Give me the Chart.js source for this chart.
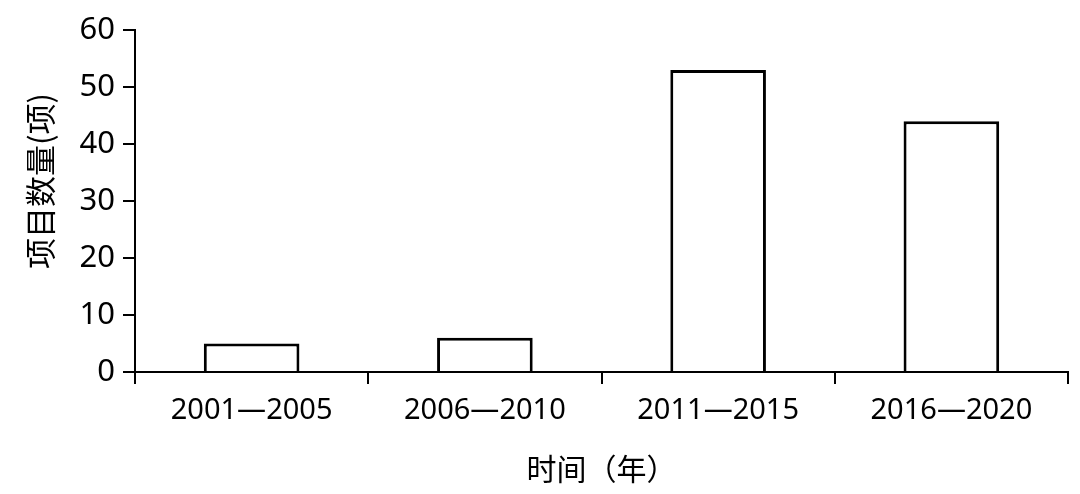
<!DOCTYPE html>
<html>
<head>
<meta charset="utf-8">
<script src="https://cdn.jsdelivr.net/npm/chart.js@4.4.0/dist/chart.umd.min.js"></script>
<style>
  html, body { margin: 0; padding: 0; background: #ffffff; }
  #wrap { width: 1080px; height: 494px; }
</style>
</head>
<body>
<div id="wrap"><canvas id="chart"></canvas></div>
<script>
// Data
const periods = ["2001—2005", "2006—2010", "2011—2015", "2016—2020"];
const projectCounts = [5, 6, 53, 44];
const yTicks = [0, 10, 20, 30, 40, 50, 60];
const xTitle = "时间（年）";
const yTitle = "项目数量(项)";

const FONT = "'Noto Sans', 'Noto Sans CJK SC', sans-serif";
const CJK_FONT = "'Noto Sans CJK SC', 'Noto Sans', sans-serif";

// Draws the rotated y axis title at a fixed spot left of the axis
const yTitlePlugin = {
    id: "yTitle",
    afterDraw(chart) {
        const ctx = chart.ctx;
        const area = chart.chartArea;
        ctx.save();
        ctx.translate(40, area.top + (area.bottom - area.top) / 2 - 20);
        ctx.rotate(-Math.PI / 2);
        ctx.font = "31px " + CJK_FONT;
        ctx.fillStyle = "#000";
        ctx.textAlign = "center";
        ctx.textBaseline = "middle";
        ctx.fillText(yTitle, 0, 0);
        ctx.restore();
    }
};

const data = {
    labels: periods,
    datasets: [{
        data: projectCounts,
        backgroundColor: "#ffffff",
        borderColor: "#000000",
        borderWidth: 3,
        borderSkipped: "bottom",
        categoryPercentage: 1.0,
        barPercentage: 0.41
    }]
};

const options = {
    responsive: true,
    maintainAspectRatio: false,
    animation: false,
    layout: { padding: { top: 30, right: 12, left: 0, bottom: 0 } },
    plugins: { legend: { display: false }, tooltip: { enabled: false } },
    scales: {
        x: {
            grid: { drawOnChartArea: false, drawTicks: true, tickLength: 12, color: "#000", lineWidth: 2, offset: true },
            border: { display: true, color: "#000", width: 2 },
            ticks: { color: "#000", font: { family: FONT, size: 29 }, padding: 9, maxRotation: 0 },
            title: { display: true, text: xTitle, color: "#000", font: { family: CJK_FONT, size: 30 }, padding: { top: 0, bottom: 7 } },
            afterFit(scale) { scale.height = 122; }
        },
        y: {
            min: 0,
            max: 60,
            afterBuildTicks(scale) { scale.ticks = yTicks.map(v => ({ value: v })); },
            grid: { drawOnChartArea: false, drawTicks: true, tickLength: 12, color: "#000", lineWidth: 2 },
            border: { display: true, color: "#000", width: 2 },
            ticks: { color: "#000", font: { family: FONT, size: 31 }, padding: 8 },
            afterFit(scale) { scale.width = 135; }
        }
    }
};

new Chart(document.getElementById("chart"), {
    type: "bar",
    data: data,
    options: options,
    plugins: [yTitlePlugin]
});
</script>
</body>
</html>
